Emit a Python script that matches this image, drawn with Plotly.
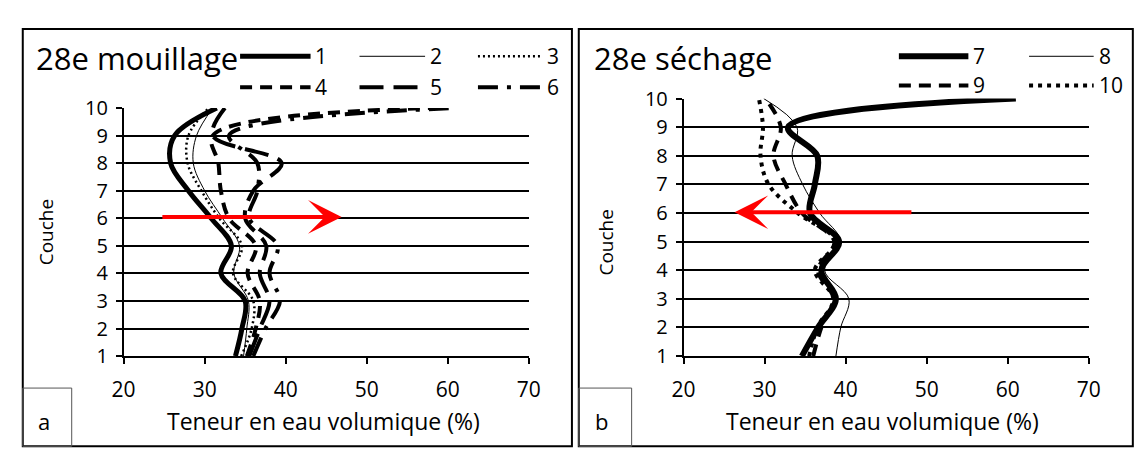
import plotly.graph_objects as go

W, H = 1137, 449
def px(x): return x / W
def py(y): return 1 - y / H

layers = [1, 2, 3, 4, 5, 6, 7, 8, 9, 10]

# 28e mouillage (wetting) - water content (%) per layer
c1 = [33.8, 34.6, 35.0, 32.0, 33.3, 30.8, 28.0, 25.8, 26.3, 31.5]
c2 = [34.8, 35.2, 35.4, 33.6, 34.3, 32.2, 30.0, 28.6, 29.0, 31.0]
c3 = [34.5, 35.8, 36.0, 33.5, 34.6, 31.8, 29.6, 27.9, 28.0, 30.5]
c4 = [35.2, 36.3, 36.8, 35.3, 36.3, 33.0, 32.0, 31.7, 31.0, 58.0]
c5 = [35.5, 36.8, 38.0, 36.8, 37.6, 35.0, 36.0, 39.5, 31.0, 32.5]
c6 = [36.0, 37.5, 39.3, 38.0, 39.0, 35.5, 36.5, 36.5, 33.0, 61.0]

# 28e séchage (drying)
c7 = [34.6, 36.6, 38.8, 37.0, 39.2, 35.6, 36.2, 36.5, 32.9, 61.0]
c8 = [38.8, 39.4, 40.4, 37.4, 39.4, 36.8, 34.7, 33.4, 34.0, 29.9]
c9 = [36.0, 37.0, 38.5, 36.6, 38.6, 34.6, 32.6, 31.1, 32.0, 30.1]
c10 = [35.5, 36.5, 38.5, 36.2, 38.8, 34.1, 30.5, 29.5, 29.8, 29.3]

x_ticks = [20, 30, 40, 50, 60, 70]
names_a = ["1", "2", "3", "4", "5", "6"]
names_b = ["7", "8", "9", "10"]

# arrows (tail, head) in data units, at layer 6
arrow_a = (24.6, 46.9, 6.05)
arrow_b = (48.3, 26.3, 6.03)

styles = {
    "1": dict(width=5, dash="solid"),
    "2": dict(width=1, dash="solid"),
    "3": dict(width=2.5, dash="2px,3px"),
    "4": dict(width=4, dash="12px,8px"),
    "5": dict(width=4, dash="24px,10px"),
    "6": dict(width=4, dash="20px,9px,4px,9px"),
    "7": dict(width=6, dash="solid"),
    "8": dict(width=1, dash="solid"),
    "9": dict(width=4, dash="12px,8px"),
    "10": dict(width=4, dash="4px,5px"),
}

FONT = "Open Sans"
fig = go.Figure()

for name, vals in zip(names_a, [c1, c2, c3, c4, c5, c6]):
    fig.add_trace(go.Scatter(x=vals, y=layers, mode="lines", name=name,
                             line=dict(color="black", shape="spline", **styles[name]),
                             xaxis="x", yaxis="y", showlegend=False))
for name, vals in zip(names_b, [c7, c8, c9, c10]):
    fig.add_trace(go.Scatter(x=vals, y=layers, mode="lines", name=name,
                             line=dict(color="black", shape="spline", **styles[name]),
                             xaxis="x2", yaxis="y2", showlegend=False))

xax = dict(range=[20, 70], tickvals=x_ticks, ticks="outside", ticklen=6, tickcolor="black",
           tickwidth=1.5, showline=True, linecolor="black", linewidth=1.5, showgrid=False,
           zeroline=False, tickfont=dict(family=FONT, size=21, color="black"),
           ticklabelstandoff=8)
yax = dict(range=[1, 10], tickvals=layers, ticks="outside", ticklen=6, tickcolor="black",
           tickwidth=1.5, showline=True, linecolor="black", linewidth=1.5, showgrid=True,
           gridcolor="black", gridwidth=1.5, zeroline=False,
           tickfont=dict(family=FONT, size=20, color="black"), ticklabelstandoff=4)

fig.update_layout(
    width=W, height=H, margin=dict(l=0, r=0, t=0, b=0),
    paper_bgcolor="white", plot_bgcolor="white",
    xaxis=dict(domain=[px(114), px(528)], anchor="y", **xax),
    yaxis=dict(domain=[py(364), py(100)], anchor="x", **yax),
    xaxis2=dict(domain=[px(686), px(1100)], anchor="y2", **xax),
    yaxis2=dict(domain=[py(364), py(90)], anchor="x2", **yax),
)

shapes = []
# panel frames
shapes.append(dict(type="rect", xref="paper", yref="paper", x0=px(11), x1=px(572), y0=py(460), y1=py(16),
                   line=dict(color="black", width=2)))
shapes.append(dict(type="rect", xref="paper", yref="paper", x0=px(579), x1=px(1145), y0=py(460), y1=py(16),
                   line=dict(color="black", width=2)))
# small letter boxes
shapes.append(dict(type="rect", xref="paper", yref="paper", x0=px(11), x1=px(61), y0=py(460), y1=py(398),
                   line=dict(color="#555555", width=1)))
shapes.append(dict(type="rect", xref="paper", yref="paper", x0=px(579), x1=px(633), y0=py(460), y1=py(398),
                   line=dict(color="#555555", width=1)))

# legend keys
leg_a = [("1", 233, 305, 45), ("2", 355, 422, 45), ("3", 476, 542, 45),
         ("4", 233, 305, 78), ("5", 355, 422, 78), ("6", 476, 542, 78)]
leg_b = [("7", 906, 977, 45), ("8", 1039, 1105, 45), ("9", 906, 977, 76), ("10", 1039, 1105, 76)]
annotations = []
for name, x0, x1, y in leg_a + leg_b:
    st = styles[name]
    shapes.append(dict(type="line", xref="paper", yref="paper", x0=px(x0), x1=px(x1), y0=py(y), y1=py(y),
                       line=dict(color="black", width=st["width"], dash=st["dash"])))
    annotations.append(dict(text=name, x=px(x1 + 3), y=py(y), xref="paper", yref="paper",
                            xanchor="left", yanchor="middle", showarrow=False,
                            font=dict(family=FONT, size=21, color="black")))

# titles
annotations.append(dict(text="28e mouillage", x=px(22), y=py(47), xref="paper", yref="paper",
                        xanchor="left", yanchor="middle", showarrow=False,
                        font=dict(family=FONT, size=31, color="black")))
annotations.append(dict(text="28e séchage", x=px(592), y=py(47), xref="paper", yref="paper",
                        xanchor="left", yanchor="middle", showarrow=False,
                        font=dict(family=FONT, size=31, color="black")))
# axis titles
for cx in [318, 889]:
    annotations.append(dict(text="Teneur en eau volumique (%)", x=px(cx), y=py(433), xref="paper", yref="paper",
                            xanchor="center", yanchor="middle", showarrow=False,
                            font=dict(family=FONT, size=23, color="black")))
for cx, cy in [(35, 232), (607, 243)]:
    annotations.append(dict(text="Couche", x=px(cx), y=py(cy), xref="paper", yref="paper",
                            xanchor="center", yanchor="middle", showarrow=False, textangle=-90,
                            font=dict(family=FONT, size=19, color="black")))
for t, cx in [("a", 33), ("b", 602)]:
    annotations.append(dict(text=t, x=px(cx), y=py(433), xref="paper", yref="paper",
                            xanchor="center", yanchor="middle", showarrow=False,
                            font=dict(family=FONT, size=22, color="black")))

# red arrows
for (x_tail, x_head, yv), xr, yr in [(arrow_a, "x", "y"), (arrow_b, "x2", "y2")]:
    annotations.append(dict(x=x_head, y=yv, ax=x_tail, ay=yv, xref=xr, yref=yr, axref=xr, ayref=yr,
                            text="", showarrow=True, arrowhead=3, arrowsize=1.4, arrowwidth=4,
                            arrowcolor="#ff0000"))

fig.update_layout(shapes=shapes, annotations=annotations)
fig.write_html("out.html", config={"displayModeBar": False},
               post_script="document.body.style.margin='0';document.body.style.overflow='hidden';")
